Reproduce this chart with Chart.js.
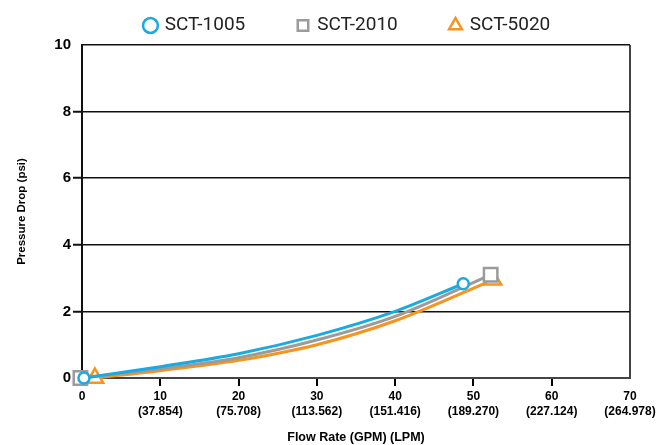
<!DOCTYPE html>
<html>
<head>
<meta charset="utf-8">
<script src="https://cdn.jsdelivr.net/npm/chart.js@4.4.0/dist/chart.umd.min.js"></script>
<style>
  body { margin: 0; background: #fff; }
</style>
</head>
<body>
<canvas id="mychart" width="672" height="445"></canvas>
<script>
// values
const seriesNames = ['SCT-1005', 'SCT-2010', 'SCT-5020'];
const flow1005 = [0.25, 10, 20, 30, 40, 48.7];
const drop1005 = [0, 0.34, 0.73, 1.28, 2.0, 2.83];
const flow2010 = [-0.2, 10, 20, 30, 40, 52.2];
const drop2010 = [0, 0.28, 0.61, 1.14, 1.85, 3.1];
const flow5020 = [1.65, 10, 20, 30, 40, 52.5];
const drop5020 = [0, 0.22, 0.53, 1.0, 1.72, 2.95];

const gpmTicks = ['0', '10', '20', '30', '40', '50', '60', '70'];
const lpmTicks = ['', '(37.854)', '(75.708)', '(113.562)', '(151.416)', '(189.270)', '(227.124)', '(264.978)'];

const colors = ['#1ba9e1', '#9b9b9b', '#f7941d'];
const styles = ['circle', 'rect', 'triangle'];
const endRadius = [5.5, 9.5, 9.5];

function toPoints(xs, ys) {
    return xs.map((x, i) => ({ x: x, y: ys[i] }));
}
const allData = [
    toPoints(flow1005, drop1005),
    toPoints(flow2010, drop2010),
    toPoints(flow5020, drop5020),
];

const datasets = seriesNames.map((name, k) => ({
    label: name,
    data: allData[k],
    borderColor: colors[k],
    backgroundColor: '#ffffff',
    borderWidth: 3,
    pointStyle: styles[k],
    pointBorderWidth: 2.5,
    pointRadius: (c) => (c.dataIndex === 0 || c.dataIndex === allData[k].length - 1) ? endRadius[k] : 0,
    cubicInterpolationMode: 'monotone',
    clip: false,
}));

const ctx = document.getElementById('mychart');
var chart = new Chart(ctx, {
    type: 'line',
    data: { datasets: datasets },
    options: {
        responsive: false,
        animation: false,
        layout: {
            padding: { top: -47, left: 24, right: 0, bottom: 0 },
        },
        scales: {
            x: {
                type: 'linear',
                min: 0,
                max: 70,
                afterFit: (scale) => {
                    scale.height = 67;
                    scale.paddingRight = 42;
                },
                grid: {
                    drawOnChartArea: true,
                    color: (c) => (c.tick && c.tick.value === 70) ? '#444444' : 'rgba(0,0,0,0)',
                    lineWidth: 2,
                    tickLength: 8,
                    tickWidth: 2,
                    tickColor: (c) => (c.tick && (c.tick.value === 0 || c.tick.value === 70)) ? 'rgba(0,0,0,0)' : '#000000',
                },
                border: {
                    color: '#444444',
                    width: 2,
                },
                ticks: {
                    stepSize: 10,
                    padding: 3,
                    color: '#000000',
                    maxRotation: 0,
                    font: { family: 'Liberation Sans', size: 12, weight: 'bold', lineHeight: 1.25 },
                    callback: (v, i) => lpmTicks[i] ? [gpmTicks[i], lpmTicks[i]] : gpmTicks[i],
                },
                title: {
                    display: true,
                    text: 'Flow Rate (GPM) (LPM)',
                    color: '#000000',
                    font: { family: 'Liberation Sans', size: 12.5, weight: 'bold' },
                    padding: { top: 4, bottom: 0 },
                },
            },
            y: {
                min: 0,
                max: 10,
                afterFit: (scale) => {
                    scale.width = 58;
                    scale.paddingTop = 45;
                },
                grid: {
                    color: (c) => (c.tick && c.tick.value === 0) ? 'rgba(0,0,0,0)' : '#111111',
                    lineWidth: 1.5,
                    tickLength: 9,
                    tickWidth: 2,
                    tickColor: (c) => (c.tick && (c.tick.value === 0 || c.tick.value === 10)) ? 'rgba(0,0,0,0)' : '#111111',
                },
                border: {
                    color: '#111111',
                    width: 2,
                },
                ticks: {
                    stepSize: 2,
                    padding: 2,
                    color: '#000000',
                    font: { family: 'Liberation Sans', size: 15, weight: 'bold' },
                },
                title: {
                    display: true,
                    text: 'Pressure Drop (psi)',
                    color: '#000000',
                    font: { family: 'Liberation Sans', size: 11.5, weight: 'bold' },
                    padding: { top: -9, bottom: 0 },
                },
            },
        },
        plugins: {
            legend: {
                display: true,
                position: 'top',
                labels: {
                    usePointStyle: true,
                    boxWidth: 9.5,
                    boxHeight: 10.5,
                    padding: 53,
                    color: '#222222',
                    font: { family: 'Roboto', size: 19 },
                },
            },
            tooltip: { enabled: false },
        },
    }
});
</script>
</body>
</html>
